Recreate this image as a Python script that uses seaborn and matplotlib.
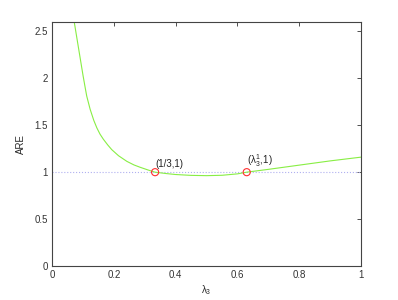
import pandas as pd
import matplotlib
matplotlib.use('Agg')
import matplotlib.pyplot as plt
import seaborn as sns

# ARE curve
lam3 = [0.072, 0.080, 0.091, 0.100, 0.107, 0.112, 0.123, 0.135, 0.145, 0.155,
        0.166, 0.180, 0.193, 0.215, 0.242, 0.265, 0.285, 0.31, 0.333, 0.37,
        0.40, 0.45, 0.50, 0.55, 0.60, 0.63, 0.70, 0.80, 0.90, 1.00]
are = [2.59, 2.43, 2.21, 2.03, 1.90, 1.81, 1.67, 1.55, 1.47, 1.405,
       1.35, 1.29, 1.24, 1.175, 1.115, 1.077, 1.052, 1.024, 1.00, 0.985,
       0.975, 0.966, 0.963, 0.967, 0.982, 1.00, 1.03, 1.075, 1.12, 1.16]

# marked points
mark_x = [1/3, 0.63]
mark_y = [1.0, 1.0]
mark_labels = ['(1/3,1)', r'($\lambda_3^1$,1)']

curve = pd.DataFrame({'lam3': lam3, 'ARE': are})
marks = pd.DataFrame({'x': mark_x, 'y': mark_y})

sns.set_style('white')
plt.rcParams['font.family'] = ['Liberation Sans', 'DejaVu Sans']
plt.rcParams['mathtext.fontset'] = 'custom'
plt.rcParams['mathtext.rm'] = 'Liberation Sans'
plt.rcParams['mathtext.it'] = 'Liberation Sans'

fig = plt.figure(figsize=(3.98, 3.0), dpi=100)
ax = fig.add_axes([0.131, 0.113, 0.776, 0.814])

ax.axhline(1.0, color='#b0b0f0', linestyle=':', linewidth=0.8)
sns.lineplot(data=curve, x='lam3', y='ARE', ax=ax, color='#88ee44', linewidth=0.8)
sns.scatterplot(data=marks, x='x', y='y', ax=ax, marker='o', s=26,
                facecolors='none', edgecolor='#ff3030', linewidth=0.8, zorder=5)

for x, y, t in zip(mark_x, mark_y, mark_labels):
    ax.annotate(t, (x, y), xytext=(0, 2), textcoords='offset points',
                fontsize=7, ha='left', va='bottom', color='#222222')

ax.set_xlim(0, 1)
ax.set_ylim(0, 2.6)
ax.set_xticks([0, 0.2, 0.4, 0.6, 0.8, 1])
ax.set_xticklabels(['0', '0.2', '0.4', '0.6', '0.8', '1'])
ax.set_yticks([0, 0.5, 1, 1.5, 2, 2.5])
ax.set_yticklabels(['0', '0.5', '1', '1.5', '2', '2.5'])
ax.tick_params(direction='in', length=3, width=0.6, labelsize=7,
               top=True, right=True, colors='#333333', pad=3)
for s in ax.spines.values():
    s.set_linewidth(0.8)
    s.set_color('#444444')
ax.set_xlabel(r'$\lambda_3$', fontsize=7, labelpad=2)
ax.set_ylabel('ARE', fontsize=7, labelpad=6)

fig.savefig('out.png', dpi=100)
